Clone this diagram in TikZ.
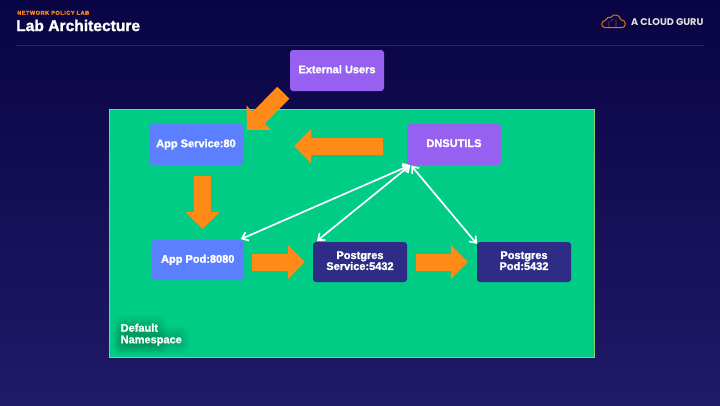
\documentclass[tikz,border=0pt]{standalone}
\usepackage{fontspec}
\setmainfont[BoldFeatures={FakeBold=1.6}]{Liberation Sans}
\newfontfamily\logofont{Poppins}
\usetikzlibrary{arrows.meta,calc,shadows}
\definecolor{bgtop}{HTML}{090443}
\definecolor{bgbottom}{HTML}{201A68}
\definecolor{nsgreen}{HTML}{00CC85}
\definecolor{nsedge}{HTML}{8CD06C}
\definecolor{svcblue}{HTML}{5B7FFF}
\definecolor{userpurple}{HTML}{9660F0}
\definecolor{pgnavy}{HTML}{2E2C86}
\definecolor{flow}{HTML}{FF8A18}
\definecolor{rulecol}{HTML}{2A2462}
\tikzstyle{block} = [rectangle, text=white, align=center, font=\bfseries\fontsize{11}{11}\selectfont, text depth=2.6pt, rounded corners=3pt, minimum width=94pt, minimum height=41pt, inner sep=0pt]
\tikzstyle{svc} = [block, fill=svcblue]
\tikzstyle{purple} = [block, fill=userpurple]
\tikzstyle{pg} = [block, fill=pgnavy]
\tikzstyle{flowline} = [draw=flow, line width=17pt, -{Triangle[length=17pt,width=33.5pt,color=flow]}]
\tikzstyle{probe} = [draw=white, line width=1.7pt, {Straight Barb[length=5.5pt,width=9pt]}-{Straight Barb[length=5.5pt,width=9pt]}]

\begin{document}
\begin{tikzpicture}[x=1pt, y=1pt, node distance=100pt]
        \useasboundingbox (0,0) rectangle (720,-405);
        \shade[top color=bgtop, bottom color=bgbottom] (0,0) rectangle (720,-405);
        \node[anchor=west, text=flow, inner sep=0pt, font=\bfseries\fontsize{5.6}{6}\selectfont\addfontfeature{LetterSpace=9}] (lab) at (17,-12.8) {NETWORK POLICY LAB};
        \node[anchor=west, text=white, inner sep=0pt, font=\bfseries\fontsize{15.6}{16}\selectfont] (title) at (16,-25.5) {Lab Architecture};
        \draw[rulecol] (16,-45) coordinate (ruleleft) -- (704,-45) coordinate (ruleright);
        % logo
        \draw[flow!85!black, line width=1pt, rounded corners=1pt] (606,-27.6) .. controls (601,-27.6) and (600.5,-21) .. (606,-20.5) .. controls (606.5,-17) and (610,-17) .. (611,-18) .. controls (612.5,-14) and (620,-14) .. (620.5,-20) .. controls (626.5,-20) and (626.5,-27.6) .. (621,-27.6) -- cycle;
        \draw[flow!60!black, line width=.6pt] (609,-27) -- (609,-21) (616,-27) -- (616,-20) (611,-21) -- (613,-19);
        \node[anchor=west, text=white!88!black, inner sep=0pt, font=\logofont\bfseries\fontsize{9.7}{10}\selectfont] (brand) at (631,-22.5) {A CLOUD GURU};
        % namespace
        \node[draw=nsedge, fill=nsgreen, line width=.8pt, minimum width=485pt, minimum height=247.6pt, inner sep=0pt, anchor=north west] (ns) at (108.8,-109.2) {};
        \foreach \g in {0,...,9} {
            \fill[black, opacity=.013, rounded corners=6pt] (122-\g,-324+\g) rectangle (158+\g,-346-\g);
            \fill[black, opacity=.013, rounded corners=6pt] (122-\g,-335+\g) rectangle (181+\g,-345-\g);
        }
        \node[anchor=north west, align=left, text=white!95!nsgreen, inner sep=0pt, font=\bfseries\fontsize{11}{11.6}\selectfont] (nslabel) at (120.5,-323.5) {Default\\Namespace};
        % nodes
        \node[svc] (appsvc) at (196,-144.5) {App Service:80};
        \node[purple, right of=appsvc, node distance=258pt] (dnsutils) {DNSUTILS};
        \node[purple, above of=appsvc, node distance=74pt, xshift=141pt] (users) {External Users};
        \node[svc, below of=appsvc, node distance=115.5pt, xshift=1.75pt, minimum width=92.5pt, minimum height=40pt] (apppod) {App Pod:8080};
        \node[pg, right of=apppod, node distance=162.25pt, yshift=-2pt, minimum height=40pt] (pgsvc) {Postgres\\Service:5432};
        \node[pg, right of=pgsvc, node distance=164pt, minimum height=40pt] (pgpod) {Postgres\\Pod:5432};
        % flow
        \path[flowline] ([xshift=-6.5pt,yshift=-1.5pt]users.south west) -- ([xshift=3.7pt,yshift=-6pt]appsvc.north east);
        \path[flowline] ([yshift=-1.5pt]dnsutils.west) ++(-24pt,0) -- ([xshift=51pt,yshift=-1.5pt]appsvc.east);
        \path[flowline] ([xshift=6.6pt,yshift=-11pt]appsvc.south) -- ([xshift=4.85pt,yshift=11pt]apppod.north);
        \path[flowline] ([xshift=8pt,yshift=-2pt]apppod.east) -- ([xshift=-8pt]pgsvc.west);
        \path[flowline] ([xshift=9pt]pgsvc.east) -- ([xshift=-9pt]pgpod.west);
        % access
        \path[probe] ([xshift=3.5pt]dnsutils.south west) -- ([xshift=-3.3pt,yshift=.7pt]apppod.north east);
        \path[probe] ([xshift=3.5pt]dnsutils.south west) -- ([xshift=4.3pt,yshift=1pt]pgsvc.north west);
        \path[probe] ([xshift=4.5pt,yshift=-.5pt]dnsutils.south west) -- ([yshift=-2pt]pgpod.north west);
\end{tikzpicture}
\end{document}
